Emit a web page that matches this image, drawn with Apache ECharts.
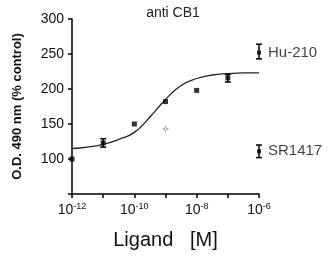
<!DOCTYPE html>
<html><head><meta charset="utf-8">
<script src="https://cdn.jsdelivr.net/npm/echarts@6/dist/echarts.min.js"></script>
<style>html,body{margin:0;padding:0;background:#fff}#c{width:330px;height:259px}</style>
</head><body><div id="c"></div>
<script>
// log10 of ligand concentration [M]
const logConc = [-12, -11, -10, -9, -8, -7];
const meanValues = [100, 123, 150, 182, 198, 216];
// error bars (log conc, low, high)
const errConc = [-11, -7, -6, -6];
const errLow = [117, 210, 243, 102];
const errHigh = [129, 221, 264, 120];
// controls at 10^-6
const controlNames = ['Hu-210', 'SR1417'];
const controlValues = [252, 111];
// open marker
const openConc = [-9];
const openValues = [143];
// fitted curve
const curveConc = [-12, -11.5, -11, -10.5, -10, -9.5, -9, -8.5, -8, -7.5, -7, -6.5, -6];
const curveValues = [115, 117, 121, 128, 138, 160, 185, 205, 215, 220, 222, 223, 223];
const yTicks = [100, 150, 200, 250, 300];

const chart = echarts.init(document.getElementById('c'));
const font = 'Liberation Sans, Arial, sans-serif';
chart.setOption({
  animation: false,
  title: { text: 'anti CB1', left: 168, textAlign: 'center', top: 1,
    textStyle: { fontFamily: font, fontSize: 14, fontWeight: 'normal', color: '#222' } },
  grid: { left: 72, right: 71, top: 19, bottom: 65 },
  xAxis: {
    type: 'value', min: -12, max: -6, interval: 1,
    name: 'Ligand   [M]', nameLocation: 'middle', nameGap: 36,
    nameTextStyle: { fontFamily: font, fontSize: 20, color: '#111' },
    axisLine: { lineStyle: { color: '#000', width: 1.5 } },
    axisTick: { show: true, length: 4, lineStyle: { color: '#000', width: 1.5 } },
    splitLine: { show: false },
    axisLabel: {
      margin: 8, color: '#111', fontFamily: font,
      formatter: v => (v % 2 === 0) ? '{b|10}{s|' + v + '}' : '',
      rich: { b: { fontSize: 14, fontFamily: font, color: '#111' },
              s: { fontSize: 9, fontFamily: font, color: '#111', padding: [0, 0, 8, 0] } }
    }
  },
  yAxis: {
    type: 'value', min: 50, max: 300, interval: 50,
    name: 'O.D. 490 nm (% control)', nameLocation: 'middle', nameGap: 48, nameRotate: 90,
    nameTextStyle: { fontFamily: font, fontSize: 13, color: '#111', fontWeight: 'bold' },
    axisLine: { show: true, lineStyle: { color: '#000', width: 1.5 } },
    axisTick: { show: true, length: 4, lineStyle: { color: '#000', width: 1.5 } },
    splitLine: { show: false },
    axisLabel: { fontFamily: font, fontSize: 14, color: '#111', margin: 8,
      formatter: v => yTicks.includes(v) ? String(v) : '' }
  },
  series: [
    { type: 'line', data: curveConc.map((x, i) => [x, curveValues[i]]), smooth: 0.5,
      showSymbol: false, lineStyle: { color: '#222', width: 1.3 }, z: 2 },
    { type: 'scatter', data: logConc.map((x, i) => [x, meanValues[i]]),
      symbol: 'rect', symbolSize: 5, itemStyle: { color: '#000' }, z: 4 },
    { type: 'scatter', data: controlValues.map((v, i) => ({ value: [-6, v], name: controlNames[i] })),
      symbol: 'rect', symbolSize: 4, itemStyle: { color: '#000' }, z: 4,
      label: { show: true, position: 'right', distance: 7, formatter: p => p.name,
        fontFamily: font, fontSize: 15, color: '#111' } },
    { type: 'scatter', data: openConc.map((x, i) => [x, openValues[i]]),
      symbol: 'path://M0,-10 L2,-2 L10,0 L2,2 L0,10 L-2,2 L-10,0 L-2,-2 Z', symbolSize: 6,
      itemStyle: { color: '#fff', borderColor: '#888', borderWidth: 0.8 }, z: 4 },
    { type: 'custom', z: 3,
      data: errConc.map((x, i) => [x, errLow[i], errHigh[i]]),
      renderItem: (params, api) => {
        const lo = api.coord([api.value(0), api.value(1)]);
        const hi = api.coord([api.value(0), api.value(2)]);
        const w = 3;
        const st = { stroke: '#000', lineWidth: 1.5 };
        return { type: 'group', children: [
          { type: 'line', shape: { x1: lo[0], y1: lo[1], x2: hi[0], y2: hi[1] }, style: st },
          { type: 'line', shape: { x1: lo[0]-w, y1: lo[1], x2: lo[0]+w, y2: lo[1] }, style: st },
          { type: 'line', shape: { x1: hi[0]-w, y1: hi[1], x2: hi[0]+w, y2: hi[1] }, style: st }
        ]};
      } }
  ]
});
</script></body></html>
